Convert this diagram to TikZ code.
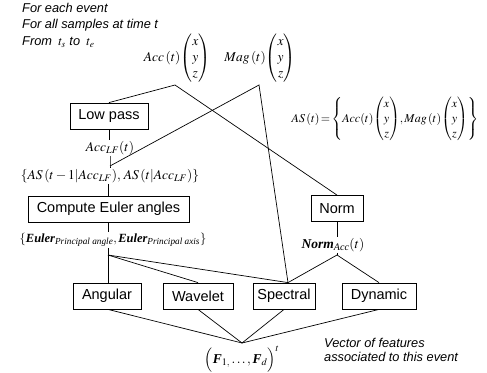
\documentclass[tikz,border=0pt]{standalone}
\usepackage{amsmath}
\usepackage{mathptmx}
\usepackage[no-math]{fontspec}
\setmainfont{Liberation Serif}
\setsansfont{Liberation Sans}
\usetikzlibrary{calc}
\newcommand{\bi}[1]{\mbox{\bfseries\itshape #1}}
\newcommand{\xyz}{\!\begin{pmatrix}x\\y\\z\end{pmatrix}}
\begin{document}
\begin{tikzpicture}[x=1pt,y=-1pt,
  box/.style={draw, line width=0.8pt, minimum height=26pt, inner sep=0pt,
    font=\sffamily\fontsize{14.5}{17}\selectfont},
  lbl/.style={inner sep=1pt, font=\fontsize{13.5}{16}\selectfont},
  note/.style={anchor=west, inner sep=0pt, font=\sffamily\itshape\fontsize{12.8}{15}\selectfont},
  conn/.style={line width=0.7pt}]
\fill[white] (0,0) rectangle (487,372);
\useasboundingbox (0,0) rectangle (487,372);

% notes
\node[note] (n1) at (22,8) {For each event};
\node[note] (n2) at (22,25) {For all samples at time t};
\node[note] (n3) at (22,42) {From $\;t_s$ to $\;t_e$};
\node[note] (v1) at (324,343) {Vector of features};
\node[note] (v2) at (324,357) {associated to this event};

% boxes
\node[box, minimum width=78pt] (lowpass) at (109,116) {Low pass};
\node[box, minimum width=161pt] (euler) at (108.5,209) {Compute Euler angles};
\node[box, minimum width=52pt] (norm) at (337,208.5) {Norm};
\node[box, minimum width=68pt] (angular) at (107,296) {Angular};
\node[box, minimum width=70pt] (wavelet) at (198,296) {Wavelet};
\node[box, minimum width=62pt] (spectral) at (284,296) {Spectral};
\node[box, minimum width=74pt] (dynamic) at (379,296) {Dynamic};

% math labels
\node[lbl] (accv) at (177,58) {$Acc\,(t)\xyz$};
\node[lbl] (magv) at (260,58) {$Mag\,(t)\xyz$};
\node[lbl, font=\fontsize{12}{15}\selectfont] (asv) at (385,119) {$AS\,(t)\!=\!\left\{Acc(t)\xyz\!, Mag\,(t)\xyz\right\}$};
\node[lbl] (acclf) at (110,148) {$Acc_{LF}(t)$};
\node[lbl] (aslf) at (110,176) {$\{AS\,(t-1|Acc_{LF}),\,AS\,(t|Acc_{LF})\}$};
\node[lbl, font=\fontsize{12.5}{15}\selectfont] (eul) at (113,240) {$\{\bi{Euler}_{\text{\itshape Principal angle}}, \bi{Euler}_{\text{\itshape Principal axis}}\}$};
\node[lbl] (normlbl) at (333,245) {$\bi{Norm}_{\text{\itshape Acc}}(t)$};
\node[lbl] (fv) at (242,359) {$\Bigl(\bi{F}_{1,}\ldots,\bi{F}_{d}\Bigr)^{t}$};

% junctions
\coordinate (accpt) at (175,85);
\coordinate (magpt) at (259,85);
\coordinate (jlf) at (110,166);
\coordinate (je) at (108,255);
\coordinate (jn) at (337,255);
\coordinate (jf) at (242,343);
\coordinate (spt) at ($(spectral.north)+(4,0)$);

% connectors
\draw[conn] (lowpass.north) -- (accpt) -- (norm.north);
\draw[conn] (jlf) -- (magpt) -- (spt);
\draw[conn] (lowpass.south) -- (acclf.north -| lowpass.south);
\draw[conn] (acclf.south -| jlf) -- (jlf) -- (aslf.north -| jlf);
\draw[conn] (aslf.south -| euler.north) -- (euler.north);
\draw[conn] (euler.south) -- (eul.north -| euler.south);
\draw[conn] (eul.south -| je) -- (je);
\draw[conn] (je) -- (angular.north -| je);
\draw[conn] (je) -- (wavelet.north);
\draw[conn] (je) -- (spt);
\draw[conn] (norm.south) -- (normlbl.north -| norm.south);
\draw[conn] (normlbl.south -| jn) -- (jn);
\draw[conn] (jn) -- (spt);
\draw[conn] (jn) -- (dynamic.north);
\draw[conn] (angular.south -| je) -- (jf);
\draw[conn] (wavelet.south) -- (jf);
\draw[conn] (spectral.south) -- (jf);
\draw[conn] (dynamic.south) -- (jf);
\end{tikzpicture}
\end{document}
